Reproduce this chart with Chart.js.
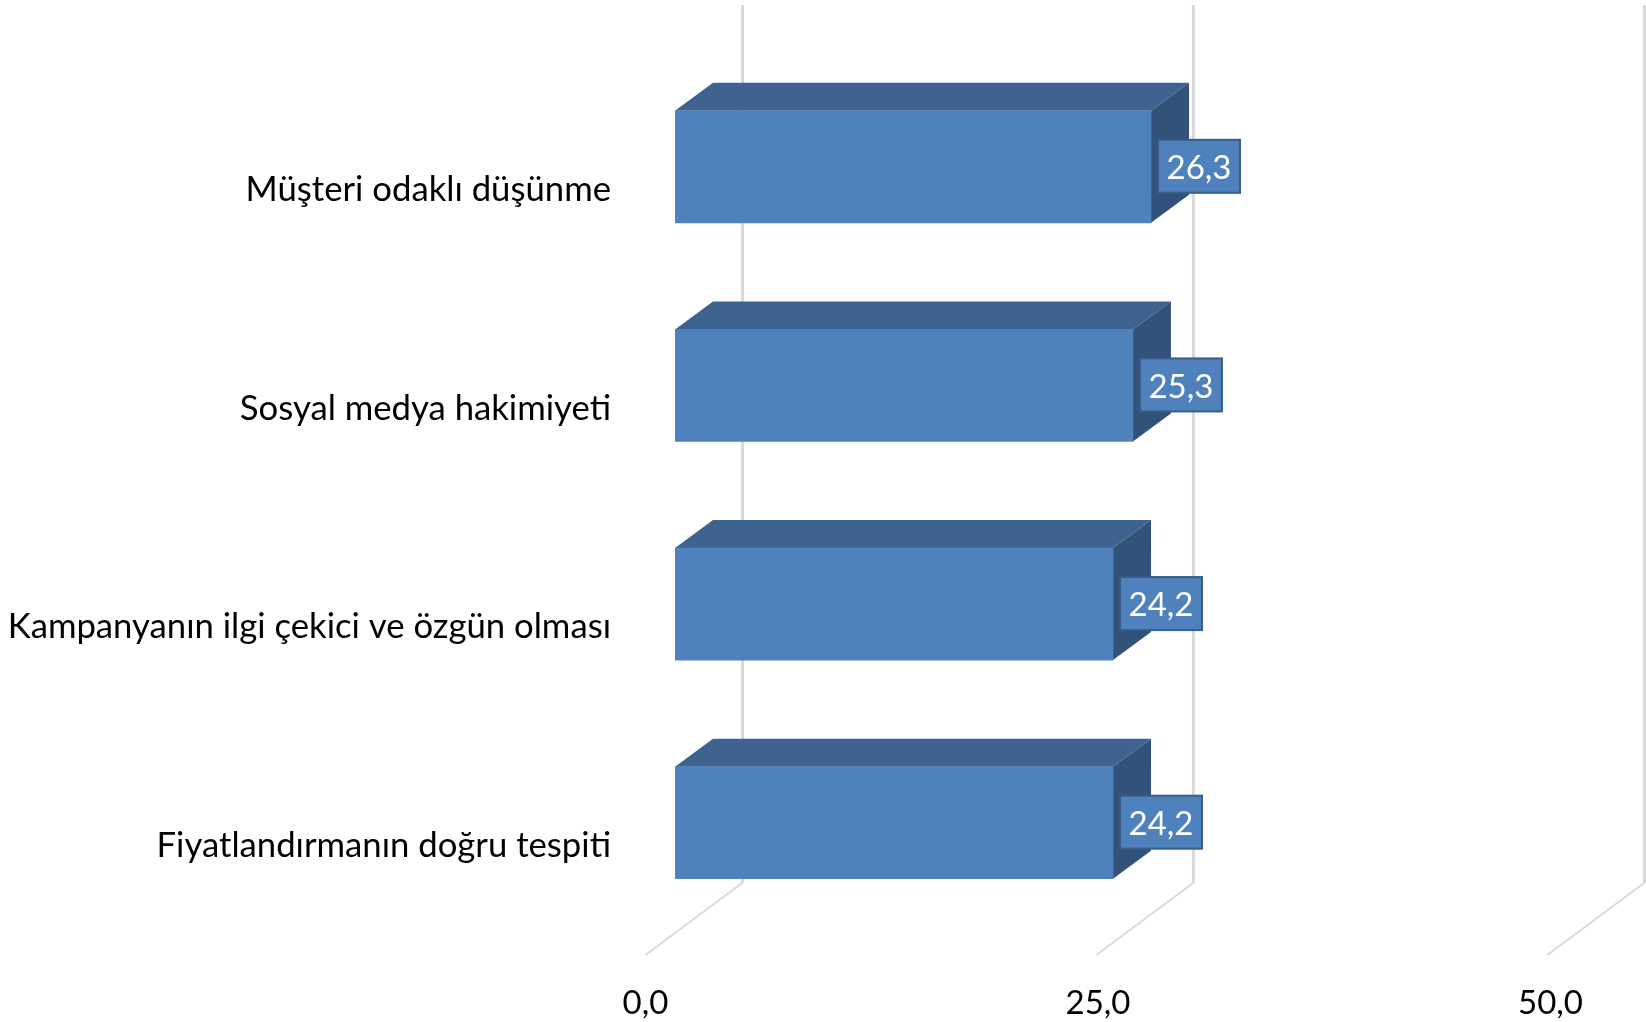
<!DOCTYPE html>
<html lang="tr">
<head>
<meta charset="utf-8">
<title>Chart</title>
<script src="https://cdn.jsdelivr.net/npm/chart.js@4"></script>
<style>html,body{margin:0;padding:0;background:#fff}canvas{display:block}</style>
</head>
<body>
<canvas id="c" width="1646" height="1022"></canvas>
<script>
const categories = ['Müşteri odaklı düşünme','Sosyal medya hakimiyeti','Kampanyanın ilgi çekici ve özgün olması','Fiyatlandırmanın doğru tespiti'];
const values = [26.3, 25.3, 24.2, 24.2];
const axisMin = 0, axisMax = 50, axisStep = 25;

const FONT = 'Lato, Carlito, Calibri, sans-serif';
const DEPTH_X = 38, DEPTH_Y = 28;
const fmt = v => Number(v).toFixed(1).replace('.', ',');

const depth3d = {
  id: 'depth3d',
  beforeDatasetsDraw(chart) {
    const { ctx, scales: { x } } = chart;
    const zero = x.getPixelForValue(0);
    ctx.save();
    // Back wall gridlines and the floor lines, positioned from the value scale
    x.ticks.forEach(t => {
      const d = x.getPixelForValue(t.value) - zero;
      const wallX = 742.5 + d * 0.9965;
      const floorX = 645.5 + d * 0.9965;
      ctx.strokeStyle = '#D9D9D9';
      ctx.lineCap = 'butt';
      ctx.lineJoin = 'miter';
      ctx.lineWidth = 3;
      ctx.beginPath();
      ctx.moveTo(wallX, 5);
      ctx.lineTo(wallX, 882);
      ctx.stroke();
      ctx.lineWidth = 2;
      ctx.beginPath();
      ctx.moveTo(wallX + 1, 882);
      ctx.lineTo(floorX, 955);
      ctx.stroke();
    });
    // Top and side faces of each bar
    chart.getDatasetMeta(0).data.forEach(b => {
      const h = b.height / 2;
      const top = b.y - h, bot = b.y + h, l = b.base, r = b.x;
      ctx.fillStyle = '#3E6391';
      ctx.beginPath();
      ctx.moveTo(l, top);
      ctx.lineTo(l + DEPTH_X, top - DEPTH_Y);
      ctx.lineTo(r + DEPTH_X, top - DEPTH_Y);
      ctx.lineTo(r, top);
      ctx.closePath();
      ctx.fill();
      ctx.fillStyle = '#32527A';
      ctx.beginPath();
      ctx.moveTo(r, top);
      ctx.lineTo(r + DEPTH_X, top - DEPTH_Y);
      ctx.lineTo(r + DEPTH_X, bot - DEPTH_Y);
      ctx.lineTo(r, bot);
      ctx.closePath();
      ctx.fill();
    });
    ctx.restore();
  },
  afterDatasetsDraw(chart) {
    const { ctx } = chart;
    ctx.save();
    chart.getDatasetMeta(0).data.forEach((b, i) => {
      const w = 82, h = 53, bx = b.x + 7, by = b.y - 27;
      ctx.fillStyle = '#4F81BD';
      ctx.strokeStyle = '#385D8A';
      ctx.lineWidth = 2;
      ctx.fillRect(bx, by, w, h);
      ctx.strokeRect(bx, by, w, h);
      ctx.fillStyle = '#FFFFFF';
      ctx.font = '33px ' + FONT;
      ctx.textAlign = 'center';
      ctx.textBaseline = 'middle';
      ctx.fillText(fmt(values[i]), bx + w / 2, by + h / 2 + 2);
    });
    ctx.restore();
  }
};

new Chart(document.getElementById('c'), {
  type: 'bar',
  data: {
    labels: categories,
    datasets: [{
      data: values,
      backgroundColor: '#4F81BD',
      borderWidth: 0,
      barThickness: 112,
      categoryPercentage: 1
    }]
  },
  options: {
    indexAxis: 'y',
    responsive: false,
    animation: false,
    events: [],
    layout: { padding: { top: 57.5, right: 66, bottom: 0, left: 0 } },
    plugins: { legend: { display: false }, title: { display: false }, tooltip: { enabled: false } },
    scales: {
      x: {
        type: 'linear',
        min: axisMin,
        max: axisMax,
        grid: { display: false, drawTicks: false },
        border: { display: false },
        afterFit(s) { s.height = 90; s.paddingLeft = 0; s.paddingRight = 0; },
        ticks: {
          stepSize: axisStep,
          maxRotation: 0,
          autoSkip: false,
          labelOffset: -29.5,
          padding: 52,
          color: '#000000',
          font: { family: FONT, size: 33 },
          callback: v => fmt(v)
        }
      },
      y: {
        type: 'category',
        grid: { display: false, drawTicks: false },
        border: { display: false },
        afterFit(s) { s.width = 675; s.paddingTop = 0; s.paddingBottom = 0; },
        ticks: {
          padding: 64,
          labelOffset: 23,
          autoSkip: false,
          color: '#000000',
          font: { family: FONT, size: 34.7 }
        }
      }
    }
  },
  plugins: [depth3d]
});
</script>
</body>
</html>
